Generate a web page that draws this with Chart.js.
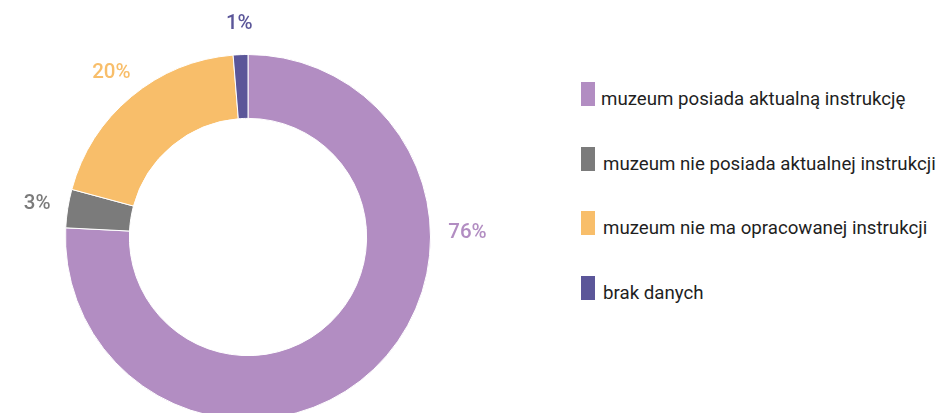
<!DOCTYPE html>
<html>
<head>
<meta charset="utf-8">
<script src="https://cdn.jsdelivr.net/npm/chart.js@4.4.0/dist/chart.umd.min.js"></script>
<style>
  html, body { margin: 0; padding: 0; background: #fff; }
  #wrap { position: relative; width: 940px; height: 413px; overflow: hidden; }
  #box { position: absolute; left: 0; top: 0; width: 560px; height: 474px; }
  #legend { position: absolute; left: 581px; top: 82px; font-family: Roboto, sans-serif; font-size: 18.7px; color: #1f1f1f; }
  .item { position: relative; height: 24px; margin-bottom: 40.5px; }
  .sw { position: absolute; left: 0; top: 0; width: 14px; height: 24px; }
  .tx { position: absolute; left: 20px; top: 6px; white-space: nowrap; line-height: 22px; }
</style>
</head>
<body>
<div id="wrap">
  <div id="box"><canvas id="myChart"></canvas></div>
  <div id="legend"></div>
</div>
<script>
let categories = [
  'muzeum posiada aktualną instrukcję',
  'muzeum nie posiada aktualnej instrukcji',
  'muzeum nie ma opracowanej instrukcji',
  'brak danych'
];
let shares = [75.8, 3.4, 19.5, 1.3];
let colors = ['#b28dc2', '#7b7b7b', '#f8be6a', '#5b5699'];

// legend on the right
let legend = document.getElementById('legend');
categories.forEach(function (c, i) {
  let d = document.createElement('div');
  d.className = 'item';
  d.innerHTML = '<span class="sw" style="background:' + colors[i] + '"></span><span class="tx"' +
    (i > 0 ? ' style="left:22px"' : '') + '>' + c + '</span>';
  legend.appendChild(d);
});

// percentage labels outside the ring
let outLabels = {
  id: 'outLabels',
  afterDatasetsDraw: function (chart) {
    let ctx = chart.ctx;
    let meta = chart.getDatasetMeta(0);
    ctx.save();
    ctx.font = '500 20.5px Roboto, sans-serif';
    ctx.textAlign = 'center';
    ctx.textBaseline = 'middle';
    meta.data.forEach(function (arc, i) {
      let p = arc.getProps(['x', 'y', 'startAngle', 'endAngle', 'outerRadius']);
      let a = (p.startAngle + p.endAngle) / 2;
      let r = p.outerRadius + 31;
      if (i === 0) { a = -0.02; r = p.outerRadius + 37; } // big slice label sits to the right
      ctx.fillStyle = colors[i];
      ctx.fillText(Math.round(shares[i]) + '%', p.x + Math.cos(a) * r, p.y + Math.sin(a) * r);
    });
    ctx.restore();
  }
};

let myChart = document.getElementById('myChart').getContext('2d');
let doughnut = new Chart(myChart, {
  type: 'doughnut',
  data: {
    labels: categories,
    datasets: [{
      data: shares,
      backgroundColor: colors,
      borderColor: '#fff',
      borderWidth: 1
    }]
  },
  options: {
    responsive: true,
    maintainAspectRatio: false,
    animation: false,
    cutout: '65%',
    layout: { padding: { left: 65, right: 129, top: 54, bottom: 54 } },
    plugins: {
      legend: { display: false },
      tooltip: { enabled: false }
    }
  },
  plugins: [outLabels]
});
</script>
</body>
</html>
